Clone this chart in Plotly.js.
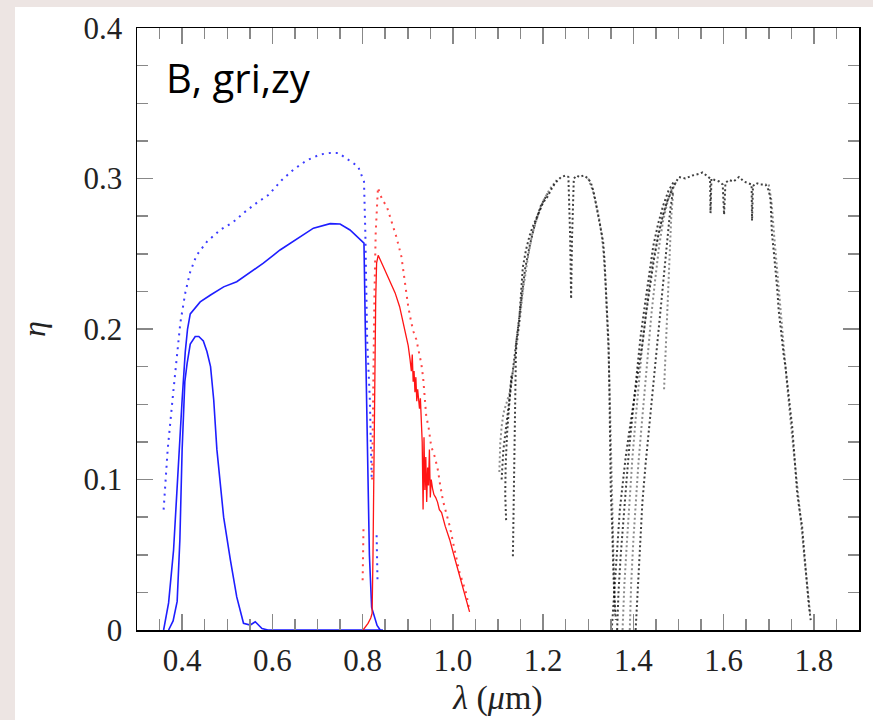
<!DOCTYPE html>
<html>
<head>
<meta charset="utf-8">
<script src="https://cdn.plot.ly/plotly-3.0.1.min.js"></script>
<style>
  html, body { margin: 0; padding: 0; background: rgb(237,229,227); width: 873px; height: 720px; overflow: hidden; }
  #chart { position: absolute; left: 15px; top: 7px; width: 858px; height: 713px; background: #fff; }
</style>
</head>
<body>
<div id="chart"></div>
<script>
// ---- data (wavelength in micron, efficiency eta) ----
const bBandX = [0.370,0.380,0.389,0.395,0.400,0.406,0.411,0.418,0.429,0.437,0.447,0.455,0.463,0.470,0.477,0.492,0.507,0.521,0.536,0.551,0.562,0.577,0.590,0.700,0.800,0.845];
const bBandY = [0.000,0.006,0.019,0.060,0.120,0.165,0.177,0.190,0.195,0.195,0.192,0.185,0.175,0.153,0.120,0.075,0.0465,0.022,0.0045,0.0033,0.0055,0.001,0.000,0.000,0.000,0.000];

const blueSolidX = [0.359,0.370,0.381,0.389,0.400,0.407,0.412,0.418,0.440,0.463,0.492,0.521,0.544,0.580,0.617,0.654,0.691,0.728,0.750,0.772,0.794,0.803,0.806,0.810,0.815,0.820,0.826,0.832,0.839];
const blueSolidY = [0.000,0.018,0.053,0.098,0.153,0.185,0.200,0.210,0.218,0.2226,0.228,0.2314,0.236,0.2437,0.2525,0.260,0.267,0.270,0.2698,0.2658,0.260,0.257,0.200,0.120,0.050,0.015,0.008,0.003,0.000];

const blueDotX = [0.359,0.368,0.380,0.389,0.396,0.407,0.418,0.432,0.455,0.485,0.513,0.540,0.566,0.591,0.621,0.647,0.676,0.706,0.728,0.746,0.772,0.790,0.803,0.806,0.810,0.816,0.820,null,0.831,0.833];
const blueDotY = [0.080,0.120,0.157,0.186,0.204,0.224,0.238,0.249,0.258,0.266,0.271,0.278,0.284,0.289,0.299,0.306,0.312,0.316,0.317,0.317,0.312,0.308,0.298,0.264,0.193,0.153,0.100,null,0.063,0.033];

const redSolidX = [0.801,0.812,0.818,0.821,0.823,0.826,0.829,0.831,0.8345,0.845,0.860,0.872,0.882,0.893,0.901,0.905,0.908,0.910,0.912,0.914,0.916,0.918,0.920,0.922,0.924,0.926,0.928,0.930,0.932,0.934,0.936,0.938,0.940,0.942,0.944,0.946,0.948,0.950,0.952,0.955,0.958,0.962,0.966,0.970,0.975,0.983,0.993,1.002,1.011,1.020,1.028,1.037];
const redSolidY = [0.000,0.0044,0.008,0.011,0.050,0.150,0.220,0.244,0.249,0.242,0.2326,0.224,0.2148,0.199,0.189,0.180,0.172,0.183,0.165,0.172,0.158,0.168,0.152,0.160,0.150,0.147,0.154,0.138,0.125,0.080,0.128,0.093,0.115,0.085,0.108,0.096,0.120,0.088,0.100,0.094,0.090,0.088,0.085,0.080,0.078,0.069,0.060,0.050,0.040,0.030,0.021,0.012];

const redDotX = [0.800,0.802,null,0.821,0.823,0.826,0.829,0.832,0.834,0.838,0.845,0.853,0.864,0.875,0.886,0.893,0.901,0.908,0.913,0.919,0.925,0.930,0.934,0.938,0.941,0.946,0.952,0.960,0.967,0.972,0.978,0.985,0.993,1.004,1.015,1.030,1.037];
const redDotY = [0.033,0.069,null,0.100,0.160,0.220,0.264,0.285,0.294,0.290,0.285,0.282,0.272,0.261,0.248,0.2326,0.215,0.204,0.198,0.193,0.185,0.177,0.168,0.155,0.142,0.135,0.122,0.115,0.106,0.096,0.086,0.078,0.069,0.053,0.038,0.024,0.012];

// near-IR J band (several atmospheric cases)
const jAX = [1.133,1.135,1.140,1.147,1.155,1.162,1.170,1.177,1.185,1.192,1.200,1.210,1.221,1.230,1.240,1.250,1.256,1.260,1.262,1.264,1.268,1.275,1.280,1.290,1.295,1.300,1.306,1.312,1.317,1.322,1.328,1.333,1.336,1.339,1.341,1.343,1.345,1.347,1.348,1.350,1.353,1.354,1.356,1.358,1.361];
const jAY = [0.049,0.100,0.190,0.206,0.241,0.2525,0.262,0.268,0.274,0.279,0.284,0.288,0.2945,0.298,0.301,0.302,0.301,0.260,0.220,0.260,0.300,0.302,0.301,0.302,0.301,0.300,0.297,0.291,0.2835,0.276,0.268,0.258,0.246,0.224,0.212,0.2015,0.190,0.157,0.135,0.091,0.0686,0.0465,0.035,0.024,0.0066];
const jBX = [1.103,1.105,1.108,1.112,1.118,1.125,1.132,1.140,1.148,1.155,1.165,1.175,1.188,1.200,1.215,1.230];
const jBY = [0.105,0.124,0.135,0.144,0.150,0.157,0.170,0.185,0.205,0.225,0.245,0.262,0.275,0.285,0.293,0.299];
const jCX = [1.118,1.116,1.117,1.120,1.125,1.130];
const jCY = [0.073,0.090,0.110,0.130,0.150,0.170];
const jDX = [1.108,1.112,1.118,1.124,1.130,1.137,1.145,1.152,1.160,1.170,1.182,1.195,1.210];
const jDY = [0.100,0.120,0.135,0.150,0.165,0.180,0.200,0.220,0.240,0.255,0.270,0.282,0.290];
const jEX = [1.300,1.310,1.318,1.325,1.330,1.334,1.338,1.342,1.345,1.348,1.351,1.355,1.359];
const jEY = [0.300,0.292,0.282,0.272,0.262,0.250,0.232,0.210,0.185,0.150,0.110,0.060,0.010];

// near-IR H band (several atmospheric cases)
const hAX = [1.352,1.355,1.358,1.362,1.366,1.370,1.376,1.383,1.390,1.398,1.405,1.412,1.420,1.428,1.436,1.445,1.455,1.465,1.475,1.486,1.495,1.501,1.515,1.531,1.545,1.553,1.562,1.570,1.571,1.573,1.580,1.590,1.598,1.601,1.604,1.612,1.622,1.634,1.645,1.655,1.662,1.663,1.665,1.672,1.682,1.693,1.700,1.704,1.707,1.711,1.715,1.719,1.722,1.728,1.733,1.737,1.742,1.747,1.752,1.757,1.763,1.768,1.774,1.779,1.785,1.789,1.793];
const hAY = [0.000,0.012,0.028,0.045,0.062,0.080,0.098,0.115,0.130,0.148,0.160,0.175,0.190,0.210,0.228,0.245,0.262,0.275,0.285,0.293,0.298,0.301,0.300,0.302,0.303,0.304,0.302,0.300,0.277,0.300,0.299,0.298,0.296,0.276,0.297,0.299,0.298,0.301,0.298,0.297,0.296,0.272,0.295,0.297,0.296,0.296,0.292,0.2857,0.2636,0.252,0.241,0.226,0.2126,0.195,0.183,0.175,0.160,0.148,0.135,0.115,0.091,0.080,0.0686,0.050,0.0288,0.016,0.0066];
const hBX = [1.376,1.380,1.386,1.392,1.398,1.405,1.412,1.420,1.428,1.436,1.445,1.455,1.465,1.475,1.486,1.495];
const hBY = [0.000,0.030,0.060,0.090,0.115,0.140,0.165,0.190,0.210,0.230,0.248,0.262,0.275,0.285,0.292,0.298];
const hCX = [1.405,1.410,1.415,1.420,1.427,1.435,1.442,1.450,1.458,1.466,1.474,1.482,1.488];
const hCY = [0.000,0.030,0.060,0.085,0.110,0.135,0.160,0.185,0.210,0.235,0.260,0.280,0.292];
const hDX = [1.468,1.472,1.476,1.480,1.484,1.488];
const hDY = [0.160,0.190,0.220,0.250,0.275,0.290];
const hEX = [1.364,1.367,1.372,1.378,1.385,1.392,1.400,1.408,1.416,1.425,1.434,1.444,1.455,1.466,1.478,1.490];
const hEY = [0.000,0.025,0.050,0.075,0.100,0.125,0.150,0.172,0.195,0.215,0.235,0.255,0.270,0.282,0.292,0.298];
const hFX = [1.392,1.395,1.400,1.405,1.411,1.418,1.425,1.432,1.440,1.448,1.457,1.466,1.476,1.485];
const hFY = [0.000,0.030,0.060,0.085,0.110,0.135,0.160,0.185,0.210,0.232,0.255,0.272,0.285,0.293];
const hGX = [1.700,1.706,1.712,1.718,1.725,1.732,1.740,1.748,1.756,1.764,1.772,1.780,1.787,1.792];
const hGY = [0.296,0.285,0.262,0.240,0.215,0.190,0.165,0.140,0.118,0.095,0.070,0.045,0.025,0.010];

const xTickVals = [0.4,0.6,0.8,1.0,1.2,1.4,1.6,1.8];
const xTickText = ['0.4','0.6','0.8','1.0','1.2','1.4','1.6','1.8'];
const yTickVals = [0,0.1,0.2,0.3,0.4];
const yTickText = ['0','0.1','0.2','0.3','0.4'];

// ---- traces ----
const blue = 'rgb(30,30,255)';
const red = 'rgb(255,20,20)';
const blk = 'rgba(0,0,0,0.75)';
const gry = 'rgba(0,0,0,0.45)';
function line(x, y, color, width, dash) {
  return {x: x, y: y, type: 'scatter', mode: 'lines', connectgaps: false,
          line: {color: color, width: width, dash: dash || 'solid'}, hoverinfo: 'skip'};
}
const nirDash = '2px,2.6px';
const data = [
  line(blueDotX, blueDotY, 'rgb(60,60,255)', 2, '2px,5px'),
  line(redDotX, redDotY, 'rgb(255,70,70)', 2, '2px,5px'),
  line(bBandX, bBandY, blue, 1.6),
  line(blueSolidX, blueSolidY, blue, 1.6),
  line(redSolidX, redSolidY, red, 1.3),
  line(jAX, jAY, blk, 2, nirDash),
  line(jBX, jBY, gry, 2, nirDash),
  line(jCX, jCY, blk, 2, nirDash),
  line(jDX, jDY, blk, 2, nirDash),
  line(jEX, jEY, gry, 2, nirDash),
  line(hAX, hAY, blk, 2, nirDash),
  line(hBX, hBY, gry, 2, nirDash),
  line(hCX, hCY, blk, 2, nirDash),
  line(hDX, hDY, gry, 2, nirDash),
  line(hEX, hEY, blk, 2, nirDash),
  line(hFX, hFY, gry, 2, nirDash),
  line(hGX, hGY, gry, 2, nirDash)
];

const tickFont = {family: 'Liberation Serif, Times New Roman, serif', size: 31, color: '#222'};
const layout = {
  width: 858, height: 713,
  margin: {l: 122, r: 14, t: 21, b: 90},
  paper_bgcolor: '#ffffff', plot_bgcolor: '#ffffff',
  showlegend: false,
  xaxis: {
    range: [0.3, 1.9], showgrid: false, zeroline: false,
    showline: true, linecolor: '#000', linewidth: 1.5, mirror: 'allticks',
    ticks: 'inside', ticklen: 16, tickwidth: 1.5, tickcolor: '#888',
    tickvals: xTickVals, ticktext: xTickText, tickfont: tickFont,
    ticklabelstandoff: 2,
    minor: {dtick: 0.05, tick0: 0.3, ticks: 'inside', ticklen: 11, tickwidth: 1.5, tickcolor: '#888'},
    title: {text: '<i>λ</i> (<i>μ</i>m)', font: {family: 'Liberation Serif, serif', size: 34, color: '#222'}, standoff: 8}
  },
  yaxis: {
    range: [0, 0.4], showgrid: false, zeroline: false,
    showline: true, linecolor: '#000', linewidth: 1.5, mirror: 'allticks',
    ticks: 'inside', ticklen: 16, tickwidth: 1.5, tickcolor: '#888',
    tickvals: yTickVals, ticktext: yTickText, tickfont: tickFont,
    ticklabelstandoff: 7,
    minor: {dtick: 0.025, tick0: 0, ticks: 'inside', ticklen: 11, tickwidth: 1.5, tickcolor: '#888'},
    title: {text: '<i>η</i>', font: {family: 'Liberation Serif, serif', size: 32, color: '#222'}, standoff: 28}
  },
  annotations: [{
    xref: 'paper', yref: 'paper', x: 0.038, y: 0.917, xanchor: 'left', yanchor: 'middle',
    text: 'B, gri,zy', showarrow: false,
    font: {family: 'Open Sans, Noto Sans, sans-serif', size: 40, color: '#000'}
  }]
};
Plotly.newPlot('chart', data, layout, {displayModeBar: false, staticPlot: true});
</script>
</body>
</html>
